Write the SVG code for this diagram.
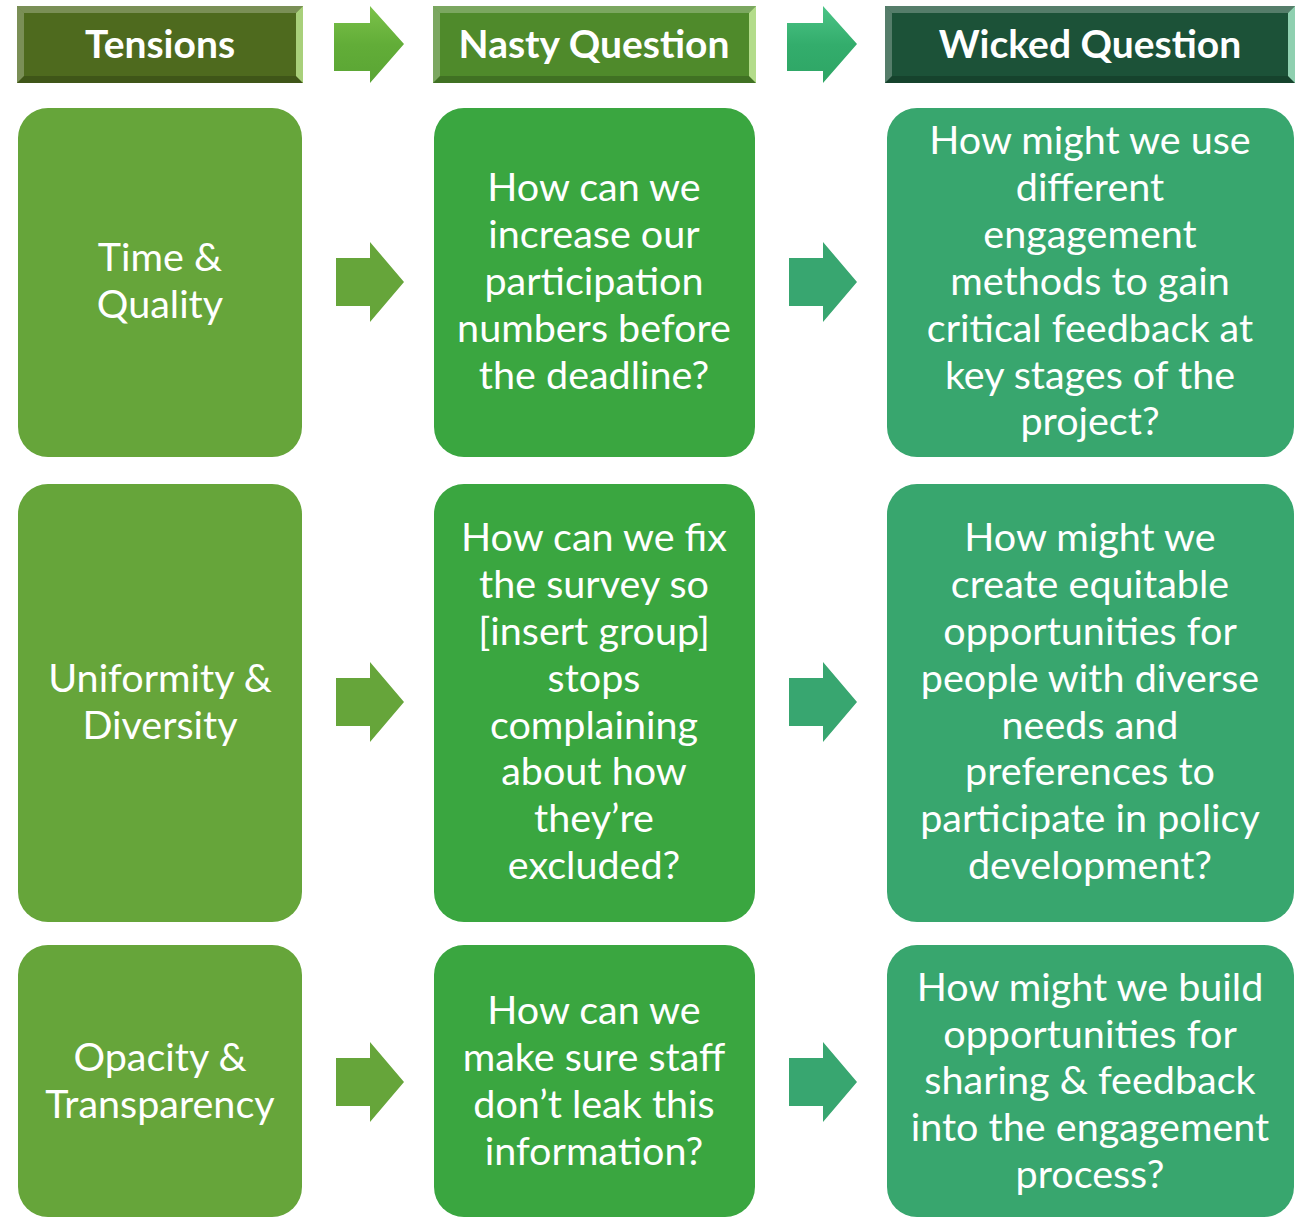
<svg xmlns="http://www.w3.org/2000/svg" width="1301" height="1217" viewBox="0 0 1301 1217">
<defs>
<linearGradient id="gArrow1" x1="0" y1="0" x2="0" y2="1">
<stop offset="0" stop-color="#7cc24a"/><stop offset="0.5" stop-color="#62ad38"/><stop offset="1" stop-color="#5aa534"/>
</linearGradient>
<linearGradient id="gArrow2" x1="0" y1="0" x2="0" y2="1">
<stop offset="0" stop-color="#4cc487"/><stop offset="0.5" stop-color="#33ad6c"/><stop offset="1" stop-color="#2ea565"/>
</linearGradient>
<polygon id="arr" points="0,16 34,16 34,0 68,40 34,80 34,64 0,64"/>
<polygon id="harr" points="0,17 36,17 36,0 70,38 36,77 36,65 0,65"/>
</defs>
<style>
.t{font-family:Lato,"Open Sans","Liberation Sans",sans-serif;font-size:39.5px;fill:#ffffff;text-anchor:middle}
.h{font-family:Lato,"Open Sans","Liberation Sans",sans-serif;font-size:39px;font-weight:bold;fill:#ffffff;text-anchor:middle}
.c1{fill:#66a53a}
.c2{fill:#3aa640}
.c3{fill:#38a66e}
.a2{fill:#38a670}
.hl{fill:#ffffff;opacity:0.25}
.hd{fill:#000000;opacity:0.18}
</style>
<rect width="1301" height="1217" fill="#ffffff"/>

<g id="header-tensions">
<rect x="17" y="6" width="286" height="77" fill="#4e6a1e"/>
<polygon class="hl" points="17,6 303,6 296,13 24,13"/>
<polygon class="hl" points="17,6 24,13 24,76 17,83"/>
<polygon class="hd" points="17,83 24,76 296,76 303,83"/>
<polygon points="303,6 303,83 296,76 296,13" fill="#a8d07a"/>
<text class="h" x="160" y="58">Tensions</text>
</g>
<g id="header-nasty">
<rect x="433" y="6" width="323" height="77" fill="#4f8a2b"/>
<polygon class="hl" points="433,6 756,6 749,13 440,13"/>
<polygon class="hl" points="433,6 440,13 440,76 433,83"/>
<polygon class="hd" points="433,83 440,76 749,76 756,83"/>
<polygon points="756,6 756,83 749,76 749,13" fill="#b3dc8a"/>
<text class="h" x="594" y="58">Nasty Question</text>
</g>
<g id="header-wicked">
<rect x="885" y="6" width="410" height="77" fill="#1c5238"/>
<polygon class="hl" points="885,6 1295,6 1288,13 892,13"/>
<polygon class="hl" points="885,6 892,13 892,76 885,83"/>
<polygon class="hd" points="885,83 892,76 1288,76 1295,83"/>
<polygon points="1295,6 1295,83 1288,76 1288,13" fill="#8fd0b0"/>
<text class="h" x="1090" y="58">Wicked Question</text>
</g>

<g id="connectors">
<use href="#harr" x="334" y="6" fill="url(#gArrow1)"/>
<use href="#harr" x="787" y="6" fill="url(#gArrow2)"/>
<use href="#arr" x="336" y="242" class="c1"/>
<use href="#arr" x="789" y="242" class="a2"/>
<use href="#arr" x="336" y="662" class="c1"/>
<use href="#arr" x="789" y="662" class="a2"/>
<use href="#arr" x="336" y="1042" class="c1"/>
<use href="#arr" x="789" y="1042" class="a2"/>
</g>

<g id="r1c1">
<rect class="c1" x="18" y="108" width="284" height="349" rx="30"/>
<text class="t" x="160" y="271">Time &amp;</text>
<text class="t" x="160" y="318">Quality</text>
</g>
<g id="r1c2">
<rect class="c2" x="434" y="108" width="321" height="349" rx="30"/>
<text class="t" x="594" y="201">How can we</text>
<text class="t" x="594" y="248">increase our</text>
<text class="t" x="594" y="295">participation</text>
<text class="t" x="594" y="342">numbers before</text>
<text class="t" x="594" y="389">the deadline?</text>
</g>
<g id="r1c3">
<rect class="c3" x="887" y="108" width="407" height="349" rx="30"/>
<text class="t" x="1090" y="154">How might we use</text>
<text class="t" x="1090" y="201">different</text>
<text class="t" x="1090" y="248">engagement</text>
<text class="t" x="1090" y="295">methods to gain</text>
<text class="t" x="1090" y="342">critical feedback at</text>
<text class="t" x="1090" y="389">key stages of the</text>
<text class="t" x="1090" y="435">project?</text>
</g>

<g id="r2c1">
<rect class="c1" x="18" y="484" width="284" height="438" rx="30"/>
<text class="t" x="160" y="692">Uniformity &amp;</text>
<text class="t" x="160" y="739">Diversity</text>
</g>
<g id="r2c2">
<rect class="c2" x="434" y="484" width="321" height="438" rx="30"/>
<text class="t" x="594" y="551">How can we fix</text>
<text class="t" x="594" y="598">the survey so</text>
<text class="t" x="594" y="645">[insert group]</text>
<text class="t" x="594" y="692">stops</text>
<text class="t" x="594" y="739">complaining</text>
<text class="t" x="594" y="785">about how</text>
<text class="t" x="594" y="832">they’re</text>
<text class="t" x="594" y="879">excluded?</text>
</g>
<g id="r2c3">
<rect class="c3" x="887" y="484" width="407" height="438" rx="30"/>
<text class="t" x="1090" y="551">How might we</text>
<text class="t" x="1090" y="598">create equitable</text>
<text class="t" x="1090" y="645">opportunities for</text>
<text class="t" x="1090" y="692">people with diverse</text>
<text class="t" x="1090" y="739">needs and</text>
<text class="t" x="1090" y="785">preferences to</text>
<text class="t" x="1090" y="832">participate in policy</text>
<text class="t" x="1090" y="879">development?</text>
</g>

<g id="r3c1">
<rect class="c1" x="18" y="945" width="284" height="272" rx="30"/>
<text class="t" x="160" y="1071">Opacity &amp;</text>
<text class="t" x="160" y="1118">Transparency</text>
</g>
<g id="r3c2">
<rect class="c2" x="434" y="945" width="321" height="272" rx="30"/>
<text class="t" x="594" y="1024">How can we</text>
<text class="t" x="594" y="1071">make sure staff</text>
<text class="t" x="594" y="1118">don’t leak this</text>
<text class="t" x="594" y="1165">information?</text>
</g>
<g id="r3c3">
<rect class="c3" x="887" y="945" width="407" height="272" rx="30"/>
<text class="t" x="1090" y="1001">How might we build</text>
<text class="t" x="1090" y="1048">opportunities for</text>
<text class="t" x="1090" y="1094">sharing &amp; feedback</text>
<text class="t" x="1090" y="1141">into the engagement</text>
<text class="t" x="1090" y="1188">process?</text>
</g>
</svg>
